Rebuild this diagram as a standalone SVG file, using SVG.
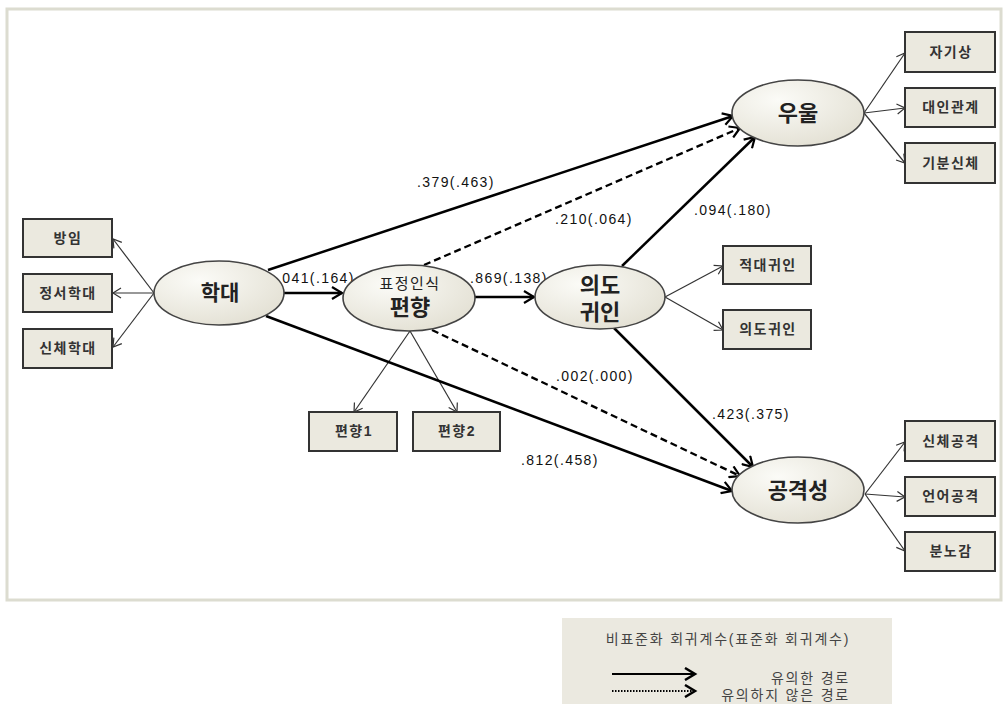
<svg xmlns="http://www.w3.org/2000/svg" width="1006" height="704" viewBox="0 0 1006 704">
<defs>
<radialGradient id="eg" cx="0.35" cy="0.3" r="0.8">
<stop offset="0" stop-color="#fbfbf7"/>
<stop offset="1" stop-color="#e2dfd2"/>
</radialGradient>
<marker id="ah" markerUnits="userSpaceOnUse" markerWidth="14" markerHeight="14" refX="11" refY="7" orient="auto">
<path d="M1,1 L11,7 L1,13" fill="none" stroke="#000" stroke-width="2.2"/>
</marker>
<marker id="at" markerUnits="userSpaceOnUse" markerWidth="12" markerHeight="12" refX="9" refY="6" orient="auto">
<path d="M1,1 L9,6 L1,11" fill="none" stroke="#333" stroke-width="1.2"/>
</marker>
<marker id="al" markerUnits="userSpaceOnUse" markerWidth="14" markerHeight="14" refX="11" refY="7" orient="auto">
<path d="M1,1 L11,7 L1,13" fill="none" stroke="#000" stroke-width="2.5"/>
</marker>
</defs>
<style>
.frame{fill:#fff;stroke:#dcdcd0;stroke-width:3}
.box{fill:#ebe9df;stroke:#333;stroke-width:2}
.ell{fill:url(#eg);stroke:#444;stroke-width:1.6}
.bt{font-family:"Liberation Sans","Noto Sans CJK KR",sans-serif;font-size:14px;font-weight:bold;fill:#333;text-anchor:middle;letter-spacing:1.5px}
.et{font-family:"Liberation Sans","Noto Sans CJK KR",sans-serif;font-size:21px;font-weight:bold;fill:#222;text-anchor:middle}
.st{font-family:"Liberation Sans","Noto Sans CJK KR",sans-serif;font-size:15px;fill:#222;text-anchor:middle;letter-spacing:1.5px}
.lb{font-family:"Liberation Sans","Noto Sans CJK KR",sans-serif;font-size:14px;fill:#111;letter-spacing:1.4px}
.thick{stroke:#000;stroke-width:2.5;fill:none;marker-end:url(#ah)}
.dash{stroke:#000;stroke-width:2.3;fill:none;stroke-dasharray:7 4;marker-end:url(#ah)}
.thin{stroke:#333;stroke-width:1.2;fill:none;marker-end:url(#at)}
.lg{font-family:"Liberation Sans","Noto Sans CJK KR",sans-serif;font-size:14px;fill:#444;letter-spacing:1.8px}
</style>
<rect width="1006" height="704" fill="#fff"/>
<rect class="frame" x="7" y="9" width="994" height="591"/>

<g id="connectors">
<path class="thin" d="M154,293 L113,239"/>
<path class="thin" d="M154,293 L113,293"/>
<path class="thin" d="M154,293 L113,347"/>
<path class="thin" d="M410,331 L354,412"/>
<path class="thin" d="M410,331 L457,412"/>
<path class="thin" d="M665,297 L723,266"/>
<path class="thin" d="M665,297 L723,330"/>
<path class="thin" d="M864,113 L905,53"/>
<path class="thin" d="M864,113 L905,108"/>
<path class="thin" d="M864,113 L905,163"/>
<path class="thin" d="M865,494 L905,442"/>
<path class="thin" d="M865,494 L905,497"/>
<path class="thin" d="M865,494 L905,551"/>
<path class="thick" d="M268,270 L733,116"/>
<path class="dash" d="M424,265 L740,128"/>
<path class="thick" d="M622,266 L755,137"/>
<path class="thick" d="M284,293 L342,293"/>
<path class="thick" d="M475,297 L534,297"/>
<path class="thick" d="M614,328 L753,467"/>
<path class="dash" d="M432,330 L740,476"/>
<path class="thick" d="M266,316 L732,491"/>
<text class="lb" x="417" y="187">.379(.463)</text>
<text class="lb" x="555" y="224">.210(.064)</text>
<text class="lb" x="694" y="215">.094(.180)</text>
<text class="lb" x="277" y="283">.041(.164)</text>
<text class="lb" x="470" y="283">.869(.138)</text>
<text class="lb" x="556" y="381">.002(.000)</text>
<text class="lb" x="712" y="419">.423(.375)</text>
<text class="lb" x="521" y="465">.812(.458)</text>
</g>

<g id="n-bangim"><rect class="box" x="23" y="219" width="89" height="38"/><text class="bt" x="68" y="243">방임</text></g>
<g id="n-jeongseo"><rect class="box" x="23" y="274" width="89" height="38"/><text class="bt" x="68" y="298">정서학대</text></g>
<g id="n-sinche"><rect class="box" x="23" y="329" width="89" height="39"/><text class="bt" x="68" y="353">신체학대</text></g>
<g id="n-hakdae"><ellipse class="ell" cx="219" cy="293" rx="65" ry="32"/><text class="et" x="220" y="300">학대</text></g>
<g id="n-pyeonhyang"><ellipse class="ell" cx="409" cy="298" rx="66" ry="33"/><text class="st" x="410" y="289">표정인식</text><text class="et" x="410" y="315" style="font-size:22px">편향</text></g>
<g id="n-ph1"><rect class="box" x="309" y="412" width="88" height="39"/><text class="bt" x="354" y="436">편향1</text></g>
<g id="n-ph2"><rect class="box" x="413" y="412" width="87" height="39"/><text class="bt" x="457" y="436">편향2</text></g>
<g id="n-uido"><ellipse class="ell" cx="600" cy="297" rx="65" ry="32"/><text class="et" x="600" y="293" style="font-size:22px">의도</text><text class="et" x="600" y="320" style="font-size:22px">귀인</text></g>
<g id="n-uul"><ellipse class="ell" cx="798" cy="113" rx="66" ry="33"/><text class="et" x="798" y="121" style="font-size:22px">우울</text></g>
<g id="n-gonggyeok"><ellipse class="ell" cx="798" cy="490" rx="66" ry="33"/><text class="et" x="798" y="498" style="font-size:22px">공격성</text></g>
<g id="n-jagisang"><rect class="box" x="905" y="32" width="90" height="40"/><text class="bt" x="951" y="57">자기상</text></g>
<g id="n-daein"><rect class="box" x="905" y="88" width="90" height="39"/><text class="bt" x="951" y="112">대인관계</text></g>
<g id="n-gibun"><rect class="box" x="905" y="143" width="90" height="40"/><text class="bt" x="951" y="168">기분신체</text></g>
<g id="n-jeokdae"><rect class="box" x="723" y="246" width="88" height="38"/><text class="bt" x="768" y="270">적대귀인</text></g>
<g id="n-uidobox"><rect class="box" x="723" y="310" width="88" height="39"/><text class="bt" x="768" y="334">의도귀인</text></g>
<g id="n-sinchegg"><rect class="box" x="905" y="421" width="90" height="40"/><text class="bt" x="951" y="446">신체공격</text></g>
<g id="n-eoneo"><rect class="box" x="905" y="477" width="90" height="39"/><text class="bt" x="951" y="501">언어공격</text></g>
<g id="n-bunno"><rect class="box" x="905" y="532" width="90" height="39"/><text class="bt" x="951" y="556">분노감</text></g>

<g id="legend">
<rect x="562" y="618" width="330" height="86" fill="#ebe9e0"/>
<text class="lg" x="728" y="644" text-anchor="middle">비표준화 회귀계수(표준화 회귀계수)</text>
<path d="M612,674 L695,674" stroke="#000" stroke-width="2.2" fill="none" marker-end="url(#al)"/>
<path d="M612,691 L695,691" stroke="#000" stroke-width="2" stroke-dasharray="1.5 1.5" fill="none" marker-end="url(#al)"/>
<text class="lg" x="850" y="683" text-anchor="end">유의한 경로</text>
<text class="lg" x="850" y="700" text-anchor="end">유의하지 않은 경로</text>
</g>
</svg>
